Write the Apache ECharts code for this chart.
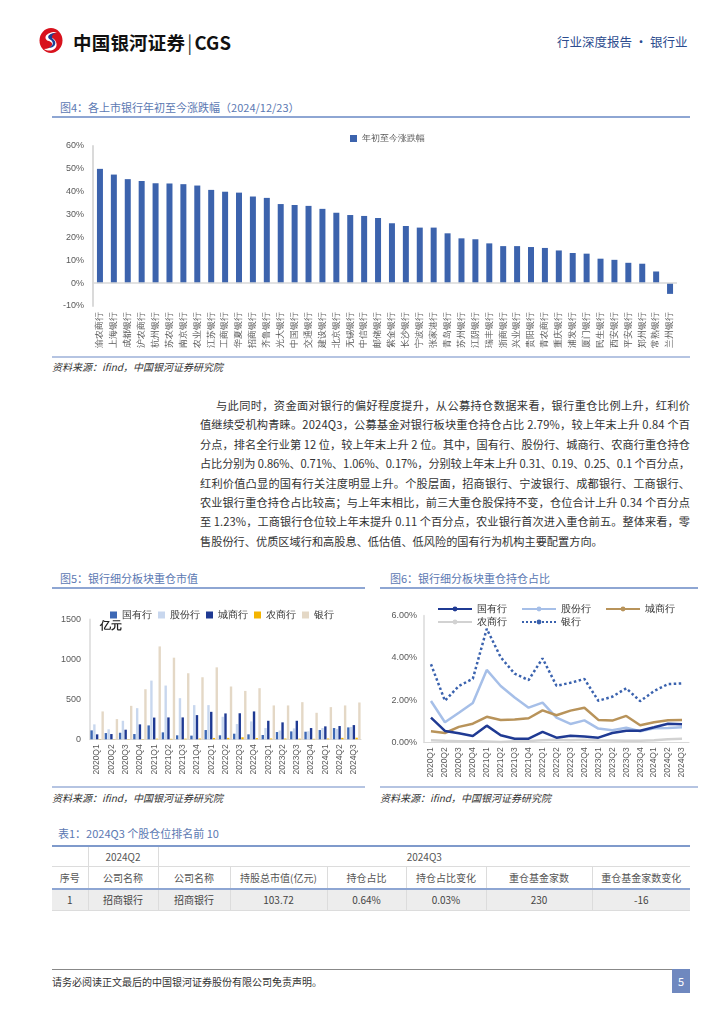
<!DOCTYPE html>
<html><head><meta charset="utf-8">
<script src="https://cdn.jsdelivr.net/npm/echarts@6/dist/echarts.min.js"></script>
<style>
html,body{margin:0;padding:0;background:#fff;}
#page{position:relative;width:724px;height:1024px;overflow:hidden;font-family:"Noto Sans CJK SC","Noto Sans",sans-serif;color:#333;}
.abs{position:absolute;white-space:nowrap;}
.ttl{font-size:11px;color:#5b78b2;line-height:14px;}
.src{font-size:10px;color:#333;font-style:italic;line-height:13px;}
.hl{position:absolute;height:2px;background:#8ea6d3;}
.pl{position:absolute;font-size:11.2px;line-height:16px;color:#333;white-space:nowrap;}
table{border-collapse:collapse;table-layout:fixed;font-size:10px;color:#555;}
td{text-align:center;padding:0;border-left:1px solid #dcdcdc;}
td:first-child{border-left:none;}
</style></head>
<body><div id="page">
<!-- header -->
<svg class="abs" style="left:38px;top:27px" width="26" height="27" viewBox="0 0 26 27">
<ellipse cx="13" cy="13.5" rx="11.5" ry="12.5" fill="#d8121d"/>
<path d="M19 5 C8 4 4 12 11 14 C17 16 14 22 6 22 C12 26 21 22 18 15 C16 10 9 10 13 7 C15 6 17 6 19 5Z" fill="#fff"/>
<path d="M18 6 C11 6 8 10 12 12.5 C16 14.5 16 19 10 21 C17 21 19 16 16 13 C13 10.5 13 8 18 6Z" fill="#1c3f94"/>
</svg>
<div class="abs" style="left:73px;top:29px;font-size:18.5px;font-weight:bold;color:#111;letter-spacing:0.2px;">中国银河证券<span style="font-weight:normal;color:#333;margin:0 2px;">|</span>CGS</div>
<div class="abs" style="left:557px;top:32px;font-size:12.5px;color:#2b4b8e;">行业深度报告 · 银行业</div>

<!-- figure 4 -->
<div class="abs ttl" style="left:60px;top:100px;">图4：各上市银行年初至今涨跌幅（2024/12/23）</div>
<div class="hl" style="left:52px;top:116px;width:638px;"></div>
<div id="c1" class="abs" style="left:52px;top:120px;width:638px;height:235px;"></div>
<div class="hl" style="left:52px;top:356px;width:638px;background:#b5c4e2;"></div>
<div class="abs src" style="left:52px;top:360px;">资料来源：ifind，中国银河证券研究院</div>

<!-- paragraph -->
<div id="para"></div>

<!-- figure 5 / 6 -->
<div class="abs ttl" style="left:60px;top:571px;">图5：银行细分板块重仓市值</div>
<div class="hl" style="left:52px;top:587px;width:313px;"></div>
<div class="abs ttl" style="left:390px;top:571px;">图6：银行细分板块重仓持仓占比</div>
<div class="hl" style="left:380px;top:587px;width:318px;"></div>
<div id="c5" class="abs" style="left:52px;top:590px;width:313px;height:195px;"></div>
<div id="c6" class="abs" style="left:380px;top:590px;width:318px;height:195px;"></div>
<div class="hl" style="left:52px;top:786px;width:313px;background:#b5c4e2;"></div>
<div class="hl" style="left:380px;top:786px;width:318px;background:#b5c4e2;"></div>
<div class="abs src" style="left:52px;top:791px;">资料来源：ifind，中国银河证券研究院</div>
<div class="abs src" style="left:380px;top:791px;">资料来源：ifind，中国银河证券研究院</div>

<!-- table -->
<div class="abs ttl" style="left:58px;top:826px;">表1：2024Q3 个股仓位排名前 10</div>
<div class="abs" style="left:52px;top:845px;">
<table style="width:638px;border-top:2px solid #7f9acb;">
<colgroup><col style="width:36px"><col style="width:70px"><col style="width:72px"><col style="width:97px"><col style="width:79px"><col style="width:80px"><col style="width:106px"><col style="width:98px"></colgroup>
<tr style="height:20px;border-bottom:1px solid #dcdcdc;"><td></td><td>2024Q2</td><td colspan="6">2024Q3</td></tr>
<tr style="height:23px;border-bottom:2px solid #8ea6d3;" id="hdr"></tr>
<tr style="height:21px;background:#ededed;border-bottom:1px solid #dcdcdc;color:#444;" id="row1"></tr>
</table></div>

<!-- footer -->
<div class="abs" style="left:52px;top:969px;width:620px;height:1px;background:#888;"></div>
<div class="abs" style="left:52px;top:974px;font-size:10px;color:#333;">请务必阅读正文最后的中国银河证券股份有限公司免责声明。</div>
<div class="abs" style="left:672px;top:969px;width:18px;height:24px;background:#6f88bf;color:#fff;font-size:11px;text-align:center;line-height:24px;">5</div>
</div>
<script>
// ---------- data ----------
const banks = ['渝农商行','上海银行','成都银行','沪农商行','杭州银行','苏农银行','南京银行','农业银行','江苏银行','工商银行','华夏银行','招商银行','齐鲁银行','光大银行','中国银行','交通银行','建设银行','北京银行','无锡银行','中信银行','邮储银行','紫金银行','长沙银行','宁波银行','张家港行','青岛银行','苏州银行','江阴银行','瑞丰银行','浙商银行','兴业银行','贵阳银行','青农商行','重庆银行','浦发银行','厦门银行','民生银行','西安银行','平安银行','郑州银行','常熟银行','兰州银行'];
const ytdChange = [50.0,47.5,45.5,44.7,43.7,43.6,43.3,42.7,40.8,40.0,39.6,37.9,37.3,34.6,34.2,33.8,32.5,30.8,29.8,29.4,28.5,26.2,25.0,24.3,24.3,21.8,19.6,19.2,17.4,16.2,16.2,15.8,15.4,14.3,13.2,12.9,10.7,10.2,8.9,8.5,5.1,-4.7];
const ytdTicks = [-10,0,10,20,30,40,50,60];

const quarters = ['2020Q1','2020Q2','2020Q3','2020Q4','2021Q1','2021Q2','2021Q3','2021Q4','2022Q1','2022Q2','2022Q3','2022Q4','2023Q1','2023Q2','2023Q3','2023Q4','2024Q1','2024Q2','2024Q3'];
const segNames = ['国有行','股份行','城商行','农商行','银行'];
// 重仓市值 (亿元)
const mvState = [112,78,82,66,174,87,50,46,116,50,70,62,54,91,99,95,116,141,149];
const mvJoint = [187,125,232,390,735,673,515,428,428,282,191,224,141,110,137,100,141,130,155];
const mvCity  = [62,66,120,187,272,274,274,303,344,324,326,349,232,212,232,141,162,166,178];
const mvRural = [4,3,3,4,8,6,8,10,17,18,25,15,10,10,8,6,10,18,20];
const mvBank  = [349,253,419,627,1163,1022,827,777,901,661,606,640,424,424,465,332,403,424,461];
// 重仓持仓占比 (%)
const shState = [1.17,0.54,0.43,0.30,0.79,0.33,0.17,0.17,0.49,0.22,0.31,0.27,0.22,0.44,0.55,0.55,0.71,0.88,0.86];
const shJoint = [1.96,0.95,1.40,1.86,3.43,2.67,2.12,1.64,1.88,1.17,0.87,1.04,0.65,0.57,0.69,0.52,0.66,0.68,0.71];
const shCity  = [0.52,0.44,0.73,0.88,1.21,1.06,1.08,1.14,1.51,1.28,1.50,1.64,1.06,1.03,1.25,0.81,0.95,1.04,1.06];
const shRural = [0.10,0.07,0.05,0.05,0.04,0.01,0.05,0.06,0.10,0.12,0.10,0.12,0.10,0.09,0.07,0.07,0.10,0.15,0.17];
const shBank  = [3.70,1.97,2.67,3.01,5.38,4.03,3.25,2.95,3.98,2.68,2.82,3.00,1.97,2.16,2.56,1.95,2.43,2.76,2.79];

const tableHeader = ['序号','公司名称','公司名称','持股总市值(亿元)','持仓占比','持仓占比变化','重仓基金家数','重仓基金家数变化'];
const tableRow1 = ['1','招商银行','招商银行','103.72','0.64%','0.03%','230','-16'];

const paraLines = [
 '与此同时，资金面对银行的偏好程度提升，从公募持仓数据来看，银行重仓比例上升，红利价',
 '值继续受机构青睐。2024Q3，公募基金对银行板块重仓持仓占比 2.79%，较上年末上升 0.84 个百',
 '分点，排名全行业第 12 位，较上年末上升 2 位。其中，国有行、股份行、城商行、农商行重仓持仓',
 '占比分别为 0.86%、0.71%、1.06%、0.17%，分别较上年末上升 0.31、0.19、0.25、0.1 个百分点，',
 '红利价值凸显的国有行关注度明显上升。个股层面，招商银行、宁波银行、成都银行、工商银行、',
 '农业银行重仓持仓占比较高；与上年末相比，前三大重仓股保持不变，仓位合计上升 0.34 个百分点',
 '至 1.23%，工商银行仓位较上年末提升 0.11 个百分点，农业银行首次进入重仓前五。整体来看，零',
 '售股份行、优质区域行和高股息、低估值、低风险的国有行为机构主要配置方向。'
];

// ---------- paragraph & table ----------
const para = document.getElementById('para');
paraLines.forEach((t,i)=>{
  const d = document.createElement('div');
  d.className='pl';
  const left = i===0?216:200;
  d.style.left = left+'px';
  d.style.top = (397 + i*19.4)+'px';
  d.textContent = t;
  para.appendChild(d);
  if(i<paraLines.length-1){
    const target = 690-left;
    const n = Array.from(t).length;
    const w = d.getBoundingClientRect().width;
    d.style.letterSpacing = ((target-w)/(n-1))+'px';
  }
});
document.getElementById('hdr').innerHTML = tableHeader.map(t=>'<td>'+t+'</td>').join('');
document.getElementById('row1').innerHTML = tableRow1.map(t=>'<td>'+t+'</td>').join('');

// ---------- charts ----------
const axisGrey = '#595959';
const c1 = echarts.init(document.getElementById('c1'));
c1.setOption({
  animation:false,
  grid:{left:41,right:13,top:26,bottom:49},
  legend:{data:['年初至今涨跌幅'],left:293,top:9,icon:'rect',itemWidth:7,itemHeight:7,itemGap:4,textStyle:{fontSize:9,color:axisGrey}},
  xAxis:{type:'category',data:banks,axisLine:{show:false,onZero:false},axisTick:{show:false},
    axisLabel:{rotate:90,interval:0,fontSize:8.5,color:axisGrey,margin:6}},
  yAxis:{type:'value',min:ytdTicks[0],max:ytdTicks[ytdTicks.length-1],interval:10,
    axisLabel:{formatter:'{value}%',fontSize:9,color:axisGrey,margin:9},
    splitLine:{show:false},axisLine:{show:true,lineStyle:{color:'#dadada',width:2}},axisTick:{show:false}},
  series:[{name:'年初至今涨跌幅',type:'bar',data:ytdChange,barWidth:6,itemStyle:{color:'#3c63ad'},
    markLine:{silent:true,symbol:'none',label:{show:false},lineStyle:{color:'#d9d9d9',width:1.5,type:'solid'},data:[{yAxis:0}]}}]
});

const barColors = ['#3d68b5','#c8d7ee','#1f3a93','#f4b400','#e4d8c6'];
const mvData = [mvState,mvJoint,mvCity,mvRural,mvBank];
const c5 = echarts.init(document.getElementById('c5'));
c5.setOption({
  animation:false,
  grid:{left:38,right:4,top:29.5,bottom:45.7},
  legend:{data:segNames,left:53,top:15,icon:'rect',itemWidth:7,itemHeight:7,itemGap:6,textStyle:{fontSize:9.5,color:'#333'}},
  graphic:[{type:'text',left:48,top:31,style:{text:'亿元',fontSize:10.5,fontWeight:'bold',fill:'#222'}}],
  xAxis:{type:'category',data:quarters,axisLine:{lineStyle:{color:'#d9d9d9'}},axisTick:{show:false},
    axisLabel:{rotate:90,interval:0,fontSize:8.5,color:axisGrey,margin:5}},
  yAxis:{type:'value',min:0,max:1500,interval:500,axisLabel:{formatter:v=>String(v),fontSize:9,color:axisGrey,margin:9},
    splitLine:{show:false},axisLine:{show:true,lineStyle:{color:'#e3e3e3',width:2}},axisTick:{show:false}},
  series:segNames.map((n,i)=>({name:n,type:'bar',data:mvData[i],barWidth:2.4,barGap:'15%',itemStyle:{color:barColors[i]}}))
});

const lineColors = ['#1f3a93','#a6bfe8','#b8935a','#d2d2d2','#3a62ae'];
const shData = [shState,shJoint,shCity,shRural,shBank];
const c6 = echarts.init(document.getElementById('c6'));
c6.setOption({
  animation:false,
  grid:{left:44,right:9,top:25.7,bottom:42.7},
  legend:[
    {data:['国有行','股份行','城商行'],left:52,top:9,itemWidth:34,itemHeight:6,itemGap:14,textStyle:{fontSize:9.5,color:'#333'}},
    {data:['农商行','银行'],left:52,top:22,itemWidth:34,itemHeight:6,itemGap:14,textStyle:{fontSize:9.5,color:'#333'}}
  ],
  xAxis:{type:'category',data:quarters,axisLine:{lineStyle:{color:'#d9d9d9'}},axisTick:{show:false},
    axisLabel:{rotate:90,interval:0,fontSize:8.5,color:axisGrey,margin:5}},
  yAxis:{type:'value',min:0,max:6,interval:2,axisLabel:{formatter:v=>v.toFixed(2)+'%',fontSize:9,color:axisGrey,margin:7},
    splitLine:{show:false},axisLine:{show:true,lineStyle:{color:'#e3e3e3',width:2}},axisTick:{show:false}},
  series:segNames.map((n,i)=>({name:n,type:'line',data:shData[i],symbol:'none',
    lineStyle:{color:lineColors[i],width:2.5,type:i===4?'dotted':'solid'},itemStyle:{color:lineColors[i]},z:i===3?1:(i===0?5:3)}))
});
</script>
</body></html>
